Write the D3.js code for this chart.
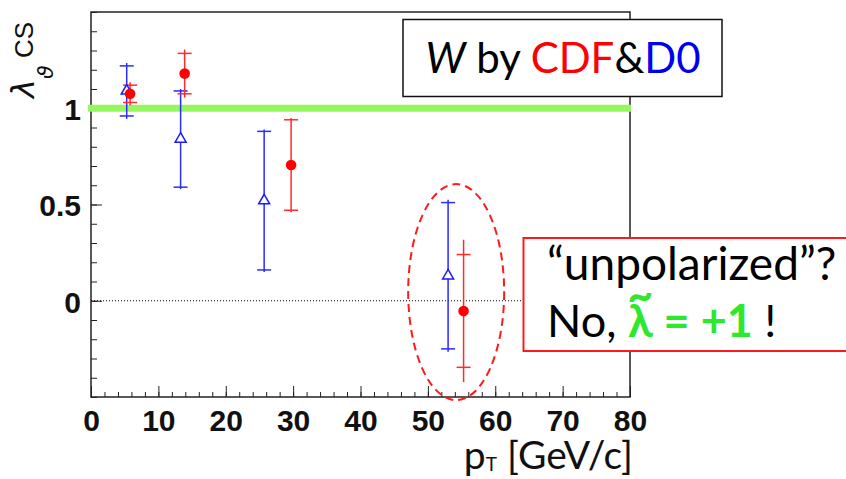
<!DOCTYPE html>
<html>
<head>
<meta charset="utf-8">
<script src="https://cdn.jsdelivr.net/npm/d3@7"></script>
<style>
  html, body { margin: 0; padding: 0; background: #fff; }
  svg { display: block; }
</style>
</head>
<body>
<svg id="chart" width="846" height="479"></svg>
<script>
// D0 measurements (open blue triangles)
const d0Pt = [5.3, 13.3, 25.7, 53.0];
const d0Lambda = [1.09, 0.84, 0.52, 0.13];
const d0StatErr = [0.13, 0.25, 0.36, 0.38];
const d0TotErr = [0.145, 0.26, 0.37, 0.395];

// CDF measurements (filled red circles)
const cdfPt = [5.8, 13.9, 29.7, 55.3];
const cdfLambda = [1.075, 1.18, 0.705, -0.053];
const cdfStatErr = [0.045, 0.105, 0.235, 0.293];
const cdfTotErr = [0.06, 0.125, 0.245, 0.37];

// Axis ticks
const xMajorTicks = [0, 10, 20, 30, 40, 50, 60, 70, 80];
const yMajorTicks = [0, 0.5, 1];
const yTickLabels = ["0", "0.5", "1"];

// Reference line for full transverse polarisation
const lambdaRef = 1;

const svg = d3.select("#chart");
const x = d3.scaleLinear().domain([0, 80]).range([91, 630]);
const y = d3.scaleLinear().domain([-0.5, 1.5]).range([397, 12]);

const boldFont = "'Liberation Sans', Arial, sans-serif";
const textFont = "Lato, 'Open Sans', sans-serif";

// Frame
svg.append("rect")
  .attr("x", x(0)).attr("y", y(1.5))
  .attr("width", x(80) - x(0)).attr("height", y(-0.5) - y(1.5))
  .attr("fill", "none").attr("stroke", "#222").attr("stroke-width", 1.5);

// X axis: major + minor ticks, pointing inward
const xAxis = d3.axisBottom(x).tickValues(xMajorTicks).tickSizeInner(-11).tickSizeOuter(0).tickPadding(13)
  .tickFormat(d3.format("d"));
const gx = svg.append("g").attr("transform", `translate(0,${y(-0.5)})`).call(xAxis);
gx.select(".domain").remove();
gx.selectAll("line").attr("stroke", "#222").attr("stroke-width", 1);
gx.selectAll("text").attr("font-family", boldFont).attr("font-weight", "bold").attr("font-size", 30).attr("fill", "#111");

const xMinor = d3.axisBottom(x).tickValues(d3.range(0, 81, 2)).tickSizeInner(-5).tickSizeOuter(0).tickFormat("");
const gxm = svg.append("g").attr("transform", `translate(0,${y(-0.5)})`).call(xMinor);
gxm.select(".domain").remove();
gxm.selectAll("line").attr("stroke", "#222").attr("stroke-width", 1);

// Y axis
const yAxis = d3.axisLeft(y).tickValues(yMajorTicks).tickSizeInner(-11).tickSizeOuter(0).tickPadding(10)
  .tickFormat((d, i) => yTickLabels[i]);
const gy = svg.append("g").attr("transform", `translate(${x(0)},0)`).call(yAxis);
gy.select(".domain").remove();
gy.selectAll("line").attr("stroke", "#222").attr("stroke-width", 1);
gy.selectAll("text").attr("font-family", boldFont).attr("font-weight", "bold").attr("font-size", 30).attr("fill", "#111")
  .attr("dy", "0.38em");

const yMinor = d3.axisLeft(y).tickValues(d3.range(-5, 16).map(v => v / 10)).tickSizeInner(-6).tickSizeOuter(0).tickFormat("");
const gym = svg.append("g").attr("transform", `translate(${x(0)},0)`).call(yMinor);
gym.select(".domain").remove();
gym.selectAll("line").attr("stroke", "#222").attr("stroke-width", 1);

// Zero line (dotted)
svg.append("line")
  .attr("x1", x(0)).attr("x2", x(80)).attr("y1", y(0)).attr("y2", y(0))
  .attr("stroke", "#000").attr("stroke-width", 1).attr("stroke-dasharray", "1,2");

// lambda = +1 band
svg.append("line")
  .attr("x1", x(0) - 3).attr("x2", x(80) + 1).attr("y1", y(lambdaRef)).attr("y2", y(lambdaRef))
  .attr("stroke", "#96f65e").attr("stroke-width", 7);

// Error bars with caps at stat error, line to total error
function drawSeries(pts, vals, stat, tot, color) {
  const g = svg.append("g").attr("stroke", color).attr("stroke-width", 1.5).attr("fill", "none");
  pts.forEach((p, i) => {
    const cx = x(p);
    g.append("line").attr("x1", cx).attr("x2", cx)
      .attr("y1", y(vals[i] + tot[i])).attr("y2", y(vals[i] - tot[i]));
    [vals[i] + stat[i], vals[i] - stat[i]].forEach(v => {
      g.append("line").attr("x1", cx - 7).attr("x2", cx + 7).attr("y1", y(v)).attr("y2", y(v));
    });
  });
}
drawSeries(d0Pt, d0Lambda, d0StatErr, d0TotErr, "#2b2bff");
drawSeries(cdfPt, cdfLambda, cdfStatErr, cdfTotErr, "#ff2a2a");

// D0 markers
svg.append("g").selectAll("path").data(d0Pt).join("path")
  .attr("d", d3.symbol(d3.symbolTriangle, 52))
  .attr("transform", (d, i) => `translate(${x(d)},${y(d0Lambda[i])})`)
  .attr("fill", "#fff").attr("stroke", "#1a1aff").attr("stroke-width", 1.5);

// CDF markers
svg.append("g").selectAll("circle").data(cdfPt).join("circle")
  .attr("cx", d => x(d)).attr("cy", (d, i) => y(cdfLambda[i]))
  .attr("r", 5.3).attr("fill", "#ff0000");

// Dashed ellipse around the high-pT points
svg.append("ellipse")
  .attr("cx", x(54.2)).attr("cy", y(0.045)).attr("rx", 48).attr("ry", 108)
  .attr("fill", "none").attr("stroke", "#ff1a1a").attr("stroke-width", 2).attr("stroke-dasharray", "8,5");

// Axis titles
const xt = svg.append("text").attr("x", 633).attr("y", 469).attr("text-anchor", "end")
  .attr("font-family", textFont).attr("font-size", 39).attr("fill", "#111");
xt.append("tspan").text("p");
xt.append("tspan").attr("font-size", 19).attr("dy", 2).text("T");
xt.append("tspan").attr("dy", -2).text(" [GeV/c]");

const yt = svg.append("g").attr("transform", "translate(34,98) rotate(-90)");
yt.append("text").attr("x", 0).attr("y", 0)
  .attr("font-family", "'DejaVu Sans', sans-serif").attr("font-style", "italic")
  .attr("font-size", 32).attr("fill", "#111").text("λ");
yt.append("text").attr("x", 19).attr("y", 19)
  .attr("font-family", "'DejaVu Sans', sans-serif").attr("font-style", "italic").attr("font-size", 22).attr("fill", "#111").text("ϑ");
yt.append("text").attr("x", 40).attr("y", -1)
  .attr("font-family", "'Liberation Sans', Arial, sans-serif").attr("font-size", 26).attr("fill", "#111").text("CS");

// Legend box
svg.append("rect").attr("x", 403).attr("y", 19.5).attr("width", 319).attr("height", 77)
  .attr("fill", "#fff").attr("stroke", "#111").attr("stroke-width", 1.5);
const lt = svg.append("text").attr("x", 563).attr("y", 73).attr("text-anchor", "middle")
  .attr("font-family", textFont).attr("font-size", 42).attr("fill", "#000");
lt.append("tspan").attr("font-style", "italic").text("W");
lt.append("tspan").text(" by ");
lt.append("tspan").attr("fill", "#ff0000").text("CDF");
lt.append("tspan").text("&");
lt.append("tspan").attr("fill", "#0000ee").text("D0");

// Annotation box
svg.append("rect").attr("x", 523.5).attr("y", 238).attr("width", 340).attr("height", 113)
  .attr("fill", "#fff").attr("stroke", "#ff1a1a").attr("stroke-width", 2);
svg.append("text").attr("x", 547).attr("y", 280)
  .attr("font-family", textFont).attr("font-size", 46).attr("fill", "#000")
  .text("\u201Cunpolarized\u201D?");

const green = "#2ee82e";
const l2 = svg.append("text").attr("x", 547).attr("y", 337)
  .attr("font-family", textFont).attr("font-size", 45).attr("fill", "#000");
l2.append("tspan").text("No, ");
const lam = l2.append("tspan").attr("fill", green).attr("font-weight", "bold").text("λ");
// tilde placed over the lambda inside the same text run
const tilde = l2.append("tspan").attr("fill", green).attr("font-weight", "bold").text("~");
const rest = l2.append("tspan").attr("fill", green).attr("font-weight", "bold").text(" = +1");
l2.append("tspan").text(" !");
const lamW = lam.node().getComputedTextLength();
const tilW = tilde.node().getComputedTextLength();
tilde.attr("dx", -(lamW + tilW) / 2).attr("dy", -26);
rest.attr("dx", (lamW - tilW) / 2).attr("dy", 26);
</script>
</body>
</html>
